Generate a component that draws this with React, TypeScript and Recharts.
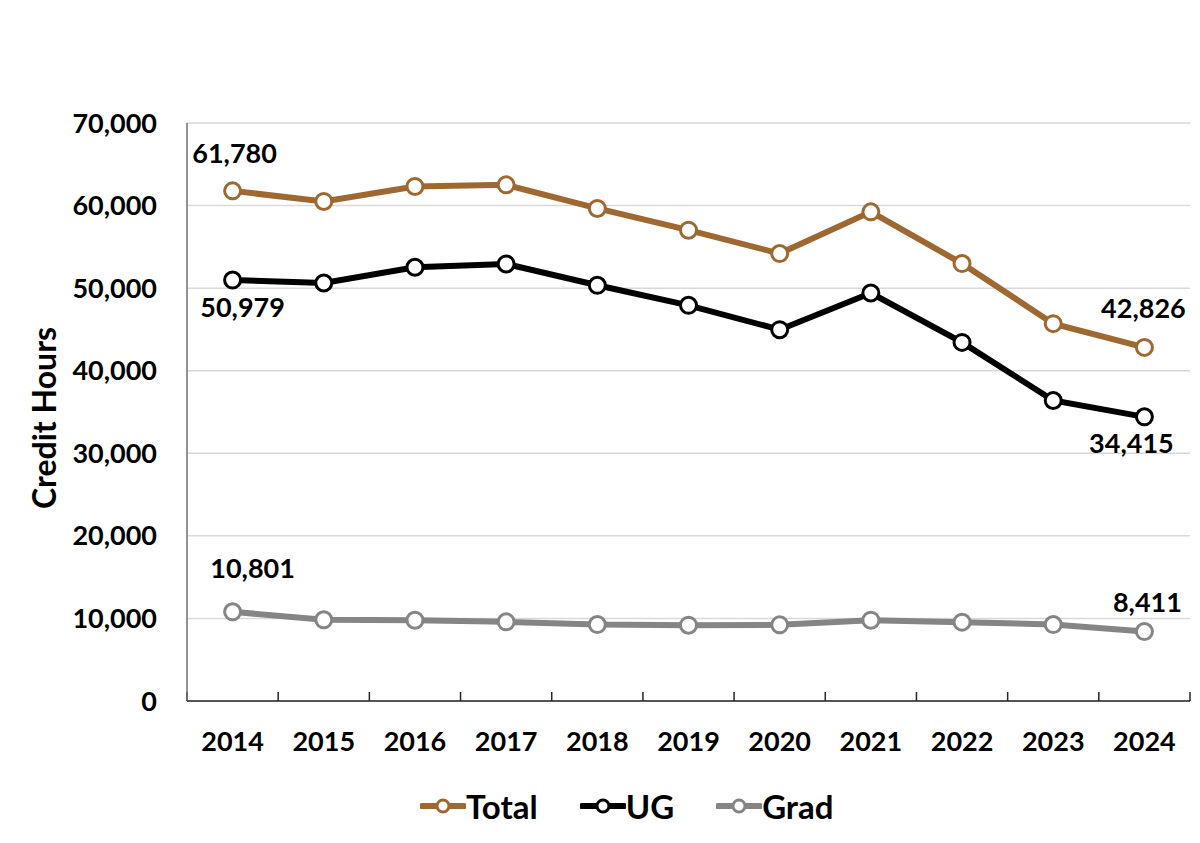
import React from "react";
import {
  LineChart,
  Line,
  XAxis,
  YAxis,
  CartesianGrid,
  Legend,
  LabelList,
} from "recharts";

const years = ["2014", "2015", "2016", "2017", "2018", "2019", "2020", "2021", "2022", "2023", "2024"];
const totalHours = [61780, 60500, 62320, 62510, 59650, 57020, 54190, 59240, 52980, 45700, 42826];
const ugHours = [50979, 50625, 52530, 52930, 50345, 47920, 44970, 49410, 43430, 36395, 34415];
const gradHours = [10801, 9830, 9790, 9585, 9260, 9180, 9220, 9790, 9550, 9260, 8411];
const yTicks = [0, 10000, 20000, 30000, 40000, 50000, 60000, 70000];

const FONT = "Lato, 'Open Sans', sans-serif";
const BROWN = "#9f6831";
const BLACK = "#000000";
const GRAY = "#858585";

const data = years.map((y, i) => ({
  idx: i,
  year: y,
  total: totalHours[i],
  ug: ugHours[i],
  grad: gradHours[i],
}));

const labelTicks = years.map((_, i) => i);
const boundaryTicks = [...years.map((_, i) => i - 0.5), years.length - 0.5];

const fmt = (v: number) => v.toLocaleString("en-US");

// only the first and last point of each series carry a value label
function endLabel(first: [number, number], last: [number, number]) {
  return (props: any) => {
    const { x, y, value, index } = props;
    const n = years.length - 1;
    if (index !== 0 && index !== n) return null;
    const [dx, dy] = index === 0 ? first : last;
    return (
      <text
        x={x + dx}
        y={y + dy}
        textAnchor="middle"
        dominantBaseline="central"
        fontFamily={FONT}
        fontWeight={700}
        fontSize={27}
        fill="#000"
      >
        {fmt(value)}
      </text>
    );
  };
}

const legendItems = [
  { name: "Total", color: BROWN },
  { name: "UG", color: BLACK },
  { name: "Grad", color: GRAY },
];

function LegendContent() {
  return (
    <div style={{ width: 1200, height: 40, display: "flex", alignItems: "center", paddingLeft: 420, boxSizing: "border-box" }}>
      {legendItems.map((it) => (
        <div key={it.name} style={{ display: "flex", alignItems: "center", marginRight: 42 }}>
          <svg width={46} height={20}>
            <line x1={2} y1={10} x2={44} y2={10} stroke={it.color} strokeWidth={6} strokeLinecap="round" />
            <circle cx={23} cy={10} r={6} fill="#fff" stroke={it.color} strokeWidth={3} />
          </svg>
          <span style={{ fontFamily: FONT, fontWeight: 700, fontSize: 33, color: "#000", lineHeight: "40px" }}>
            {it.name}
          </span>
        </div>
      ))}
    </div>
  );
}

export default function App() {
  return (
    <div style={{ position: "absolute", left: 0, top: 0, width: 1200, height: 843, background: "#fff" }}>
      <LineChart
        width={1200}
        height={843}
        data={data}
        margin={{ top: 123, right: 10, left: 0, bottom: 17 }}
      >
        <CartesianGrid vertical={false} stroke="#d9d9d9" strokeWidth={1.5} />
        <XAxis
          xAxisId="edges"
          type="number"
          dataKey="idx"
          domain={[-0.5, years.length - 0.5]}
          ticks={boundaryTicks}
          tick={() => <g />}
          height={1}
          mirror
          tickSize={9}
          stroke="#262626"
          strokeWidth={1.5}
        />
        <XAxis
          xAxisId="years"
          type="number"
          dataKey="idx"
          domain={[-0.5, years.length - 0.5]}
          ticks={labelTicks}
          tickFormatter={(i: number) => years[i]}
          interval={0}
          axisLine={false}
          tickLine={false}
          tickSize={0}
          tickMargin={31}
          height={85}
          tick={{ fontFamily: FONT, fontWeight: 700, fontSize: 27, fill: "#000" }}
        />
        <YAxis
          domain={[0, 70000]}
          ticks={yTicks}
          tickFormatter={fmt}
          width={187}
          tickLine={false}
          tickSize={0}
          tickMargin={30}
          stroke="#6e6e6e"
          strokeWidth={1.5}
          tick={{ fontFamily: FONT, fontWeight: 700, fontSize: 27, fill: "#000" }}
          label={{
            content: (p: any) => {
              const vb = p.viewBox;
              const cy = vb.y + vb.height / 2 + 6;
              return (
                <text
                  x={43}
                  y={cy}
                  transform={`rotate(-90, 43, ${cy})`}
                  textAnchor="middle"
                  dominantBaseline="central"
                  fontFamily={FONT}
                  fontWeight={700}
                  fontSize={32}
                  fill="#000"
                >
                  Credit Hours
                </text>
              );
            },
          }}
        />
        <Legend verticalAlign="bottom" content={<LegendContent />} />
        <Line
          xAxisId="years"
          dataKey="total"
          name="Total"
          stroke={BROWN}
          strokeWidth={6}
          dot={{ r: 8, fill: "#fff", stroke: BROWN, strokeWidth: 3 }}
          activeDot={false}
          isAnimationActive={false}
        >
          <LabelList dataKey="total" content={endLabel([2, -38], [-1, -40])} />
        </Line>
        <Line
          xAxisId="years"
          dataKey="ug"
          name="UG"
          stroke={BLACK}
          strokeWidth={6}
          dot={{ r: 8, fill: "#fff", stroke: BLACK, strokeWidth: 3 }}
          activeDot={false}
          isAnimationActive={false}
        >
          <LabelList dataKey="ug" content={endLabel([10, 26], [-13, 26])} />
        </Line>
        <Line
          xAxisId="years"
          dataKey="grad"
          name="Grad"
          stroke={GRAY}
          strokeWidth={6}
          dot={{ r: 8, fill: "#fff", stroke: GRAY, strokeWidth: 3 }}
          activeDot={false}
          isAnimationActive={false}
        >
          <LabelList dataKey="grad" content={endLabel([20, -44], [3, -30])} />
        </Line>
      </LineChart>
    </div>
  );
}
